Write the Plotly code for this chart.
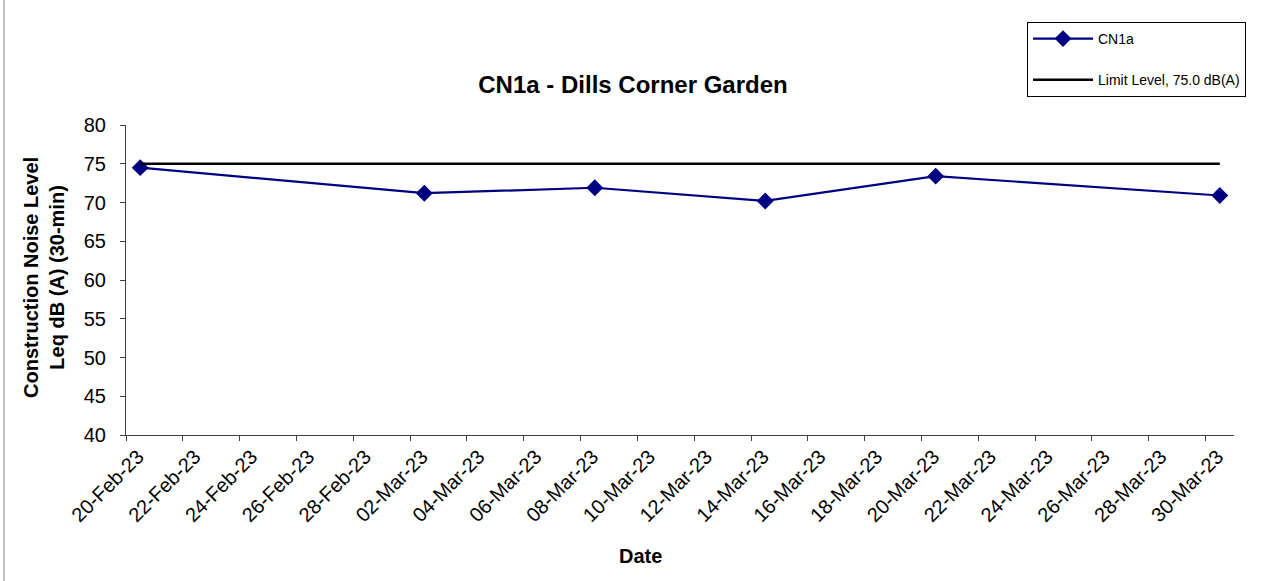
import pandas as pd
import plotly.graph_objects as go

dates = ["2023-02-20", "2023-03-02", "2023-03-08", "2023-03-14", "2023-03-20", "2023-03-30"]
cn1a = [74.5, 71.2, 71.9, 70.2, 73.4, 70.9]
limit = [75.0, 75.0, 75.0, 75.0, 75.0, 75.0]
series_names = ["CN1a", "Limit Level, 75.0 dB(A)"]
title_text = "CN1a - Dills Corner Garden"
y_title = "Construction Noise Level<br>Leq dB (A) (30-min)"
x_title = "Date"

# Excel date axis places each point in the middle of its day
x = pd.to_datetime(dates) + pd.Timedelta(hours=12)

FONT = "Arial, Liberation Sans, sans-serif"

fig = go.Figure()
fig.add_trace(go.Scatter(
    x=x, y=cn1a, name=series_names[0], mode="lines+markers", legendgroup="a",
    line=dict(color="#000080", width=2.2),
    marker=dict(symbol="diamond", size=13, color="#000080"),
))
fig.add_trace(go.Scatter(
    x=x, y=limit, name=series_names[1], mode="lines", legendgroup="b",
    line=dict(color="#000000", width=2.6),
))

L, R, T, B = 126, 36, 125, 146
W, H = 1270, 581
pw, ph = W - L - R, H - T - B

fig.update_layout(
    width=W, height=H,
    margin=dict(l=L, r=R, t=T, b=B, autoexpand=False),
    paper_bgcolor="white", plot_bgcolor="white",
    font=dict(family=FONT, color="black"),
    title=dict(text="<b>" + title_text + "</b>", x=(633 - L) / pw, xref="paper",
               xanchor="center", y=1 - 85 / H, yanchor="middle",
               font=dict(size=24, family=FONT)),
    showlegend=True,
    legend=dict(x=(1027 - L) / pw, y=1 + (T - 22) / ph, xanchor="left", yanchor="top",
                bordercolor="black", borderwidth=1, bgcolor="white",
                font=dict(size=14, family=FONT), tracegroupgap=20,
                itemwidth=60),
    xaxis=dict(
        type="date",
        range=["2023-02-20", "2023-03-31"],
        tick0="2023-02-20", dtick=2 * 86400000,
        tickformat="%d-%b-%y", tickangle=-45,
        tickfont=dict(size=20, family=FONT),
        ticks="outside", ticklen=5, tickcolor="#404040",
        ticklabelshift=12, ticklabelstandoff=-4,
        showline=True, linecolor="#404040", linewidth=1,
        showgrid=False, zeroline=False,
    ),
    yaxis=dict(
        range=[40, 80], dtick=5,
        tickfont=dict(size=20, family=FONT),
        ticks="outside", ticklen=5, tickcolor="#404040",
        ticklabelstandoff=10,
        showline=True, linecolor="#404040", linewidth=1,
        showgrid=False, zeroline=False,
    ),
)

fig.add_annotation(text="<b>" + x_title + "</b>", xref="paper", yref="paper",
                   x=(640 - L) / pw, y=(T + ph - 556) / ph, xanchor="center", yanchor="middle",
                   showarrow=False, font=dict(size=20, family=FONT))
fig.add_annotation(text="<b>" + y_title + "</b>", xref="paper", yref="paper",
                   x=(44 - L) / pw, y=(T + ph - 278) / ph, xanchor="center", yanchor="middle",
                   textangle=-90, showarrow=False, font=dict(size=20, family=FONT))

# outer chart border (left edge visible)
fig.add_shape(type="line", xref="paper", yref="paper",
              x0=(4 - L) / pw, x1=(4 - L) / pw,
              y0=-(B + 5) / ph, y1=1 + (T + 5) / ph,
              line=dict(color="#808080", width=1), layer="below")

fig.write_html("out.html", config={"displayModeBar": False},
               post_script="document.body.style.margin='0';")
